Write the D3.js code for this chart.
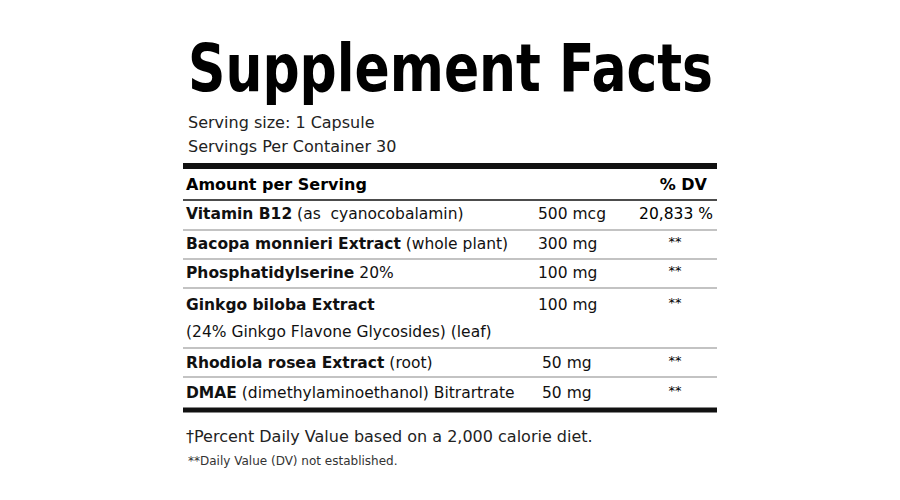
<!DOCTYPE html><html><head><meta charset="utf-8"><script src="https://cdn.jsdelivr.net/npm/d3@7"></script>
<style>body{margin:0;background:#fff}</style></head><body><svg id="c" width="900" height="500"></svg>
<script>
const title = "Supplement Facts";
const servingInfo = ["Serving size: 1 Capsule", "Servings Per Container 30"];
const headers = ["Amount per Serving", "% DV"];
const names = ["Vitamin B12", "Bacopa monnieri Extract", "Phosphatidylserine", "Ginkgo biloba Extract", "Rhodiola rosea Extract", "DMAE"];
const details = [" (as  cyanocobalamin)", " (whole plant)", " 20%", "", " (root)", " (dimethylaminoethanol) Bitrartrate"];
const secondLines = ["", "", "", "(24% Ginkgo Flavone Glycosides) (leaf)", "", ""];
const amounts = ["500 mcg", "300 mg", "100 mg", "100 mg", "50 mg", "50 mg"];
const dvs = ["20,833 %", "**", "**", "**", "**", "**"];
const footnotes = ["†Percent Daily Value based on a 2,000 calorie diet.", "**Daily Value (DV) not established."];

const svg = d3.select("#c");
const F = "'DejaVu Sans', sans-serif";
const x0 = 183, x1 = 717;
svg.append("text").attr("x",188).attr("y",91).attr("font-family",F).attr("font-weight",700)
  .attr("font-size",66).attr("textLength",525).attr("lengthAdjust","spacingAndGlyphs").text(title);
servingInfo.forEach((s,i)=>svg.append("text").attr("x",188).attr("y",128+i*24).attr("font-family",F).attr("font-size",16).attr("fill","#222").text(s));
const line=(y,w)=>svg.append("line").attr("x1",x0).attr("x2",x1).attr("y1",y).attr("y2",y).attr("stroke","#111").attr("stroke-width",w);
line(166,6);
svg.append("text").attr("x",186).attr("y",190).attr("font-family",F).attr("font-weight",700).attr("font-size",16).text(headers[0]);
svg.append("text").attr("x",707).attr("y",190).attr("text-anchor","end").attr("font-family",F).attr("font-weight",700).attr("font-size",16).text(headers[1]);
line(200,1.5);
const rowY = [219,249,278,310,368,398];
const lineY = [230,259,288,348,377];
const amtX = [538,538,538,538,542,542];
names.forEach((n,i)=>{
  const t=svg.append("text").attr("x",186).attr("y",rowY[i]).attr("font-family",F).attr("font-size",15.5).attr("fill","#111");
  t.append("tspan").attr("font-weight",700).text(n);
  t.append("tspan").attr("xml:space","preserve").text(details[i]);
  if(secondLines[i]) svg.append("text").attr("x",186).attr("y",rowY[i]+27).attr("font-family",F).attr("font-size",15.5).attr("fill","#111").text(secondLines[i]);
  svg.append("text").attr("x",amtX[i]).attr("y",rowY[i]).attr("font-family",F).attr("font-size",15.5).attr("fill","#111").text(amounts[i]);
  if(dvs[i]==="**") svg.append("text").attr("x",675).attr("y",rowY[i]-3).attr("text-anchor","middle").attr("font-family",F).attr("font-size",13).text(dvs[i]);
  else svg.append("text").attr("x",713).attr("y",rowY[i]).attr("text-anchor","end").attr("font-family",F).attr("font-size",15.5).text(dvs[i]);
});
lineY.forEach(y=>svg.append("line").attr("x1",x0).attr("x2",x1).attr("y1",y).attr("y2",y).attr("stroke","#888").attr("stroke-width",1.2));
line(410,5);
svg.append("text").attr("x",186).attr("y",442).attr("font-family",F).attr("font-size",16).attr("fill","#222").text(footnotes[0]);
svg.append("text").attr("x",188).attr("y",465).attr("font-family",F).attr("font-size",12).attr("fill","#333").text(footnotes[1]);
</script></body></html>
